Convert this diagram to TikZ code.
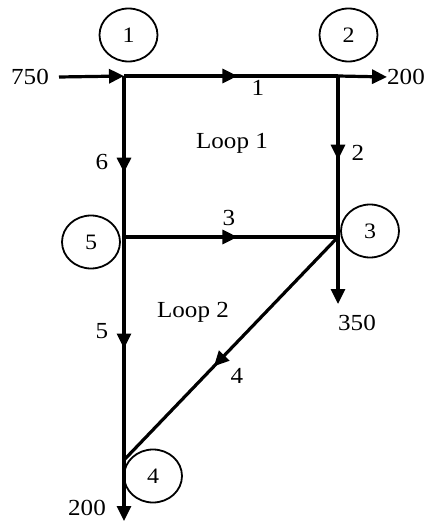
\documentclass[tikz,border=0pt]{standalone}
\usepackage{fontspec}
\setmainfont[FakeStretch=1.09]{Liberation Serif}
\usetikzlibrary{arrows.meta,shapes.geometric,decorations.markings}

\tikzset{
    pipe/.style={line width=3.2pt},
    tipend/.style={-{Triangle[length=15pt,width=14pt]}},
    midarrow/.style={postaction={decorate},
        decoration={markings,
            mark=at position #1 with {\arrow{Triangle[length=15pt,width=14pt]}}}},
    junc/.style={ellipse,draw,line width=1.8pt,minimum width=58pt,
        minimum height=53pt,inner sep=0pt,font=\fontsize{22}{24}\selectfont},
    lbl/.style={font=\fontsize{23}{25}\selectfont,inner sep=0pt}
}

\begin{document}
\begin{tikzpicture}[x=1pt,y=-1pt]
    \useasboundingbox (0,0) rectangle (436,521);

    % junctions of the network
    \coordinate (j1) at (124,76);
    \coordinate (j2) at (338,76);
    \coordinate (j3) at (338,237);
    \coordinate (j4) at (124,460);
    \coordinate (j5) at (124,237);
    \coordinate (o3) at (338,304);
    \coordinate (o4) at (124,521);

    % node circles
    \node[junc] (c1) at (128.5,35) {1};
    \node[junc] (c2) at (348.5,35) {2};
    \node[junc] (c3) at (370,231) {3};
    \node[junc] (c4) at (153,476) {4};
    \node[junc] (c5) at (91,242) {5};

    % flows in and out
    \node[lbl] (in1) at (30,77) {750};
    \node[lbl,anchor=west] (out2) at (387,77) {200};
    \node[lbl] (out3) at (357,323) {350};
    \node[lbl] (out4) at (87,508) {200};

    \draw[pipe,tipend] ([xshift=10pt]in1.east) -- (j1);
    \draw[pipe,tipend] (j2) -- (out2.west);
    \draw[pipe,tipend] (j3) -- (o3);
    \draw[pipe,tipend] (j4) -- (o4);

    % pipes
    \draw[pipe,midarrow=0.53] (j1) -- (j2);
    \draw[pipe,midarrow=0.52] (j2) -- (j3);
    \draw[pipe,midarrow=0.53] (j5) -- (j3);
    \draw[pipe,midarrow=0.60] (j1) -- (j5);
    \draw[pipe,midarrow=0.50] (j5) -- (j4);
    \draw[pipe,midarrow=0.58] (j3) -- (j4);

    % pipe and loop labels
    \node[lbl] (p1) at (258,88) {1};
    \node[lbl] (p2) at (358,153) {2};
    \node[lbl] (p3) at (229,218) {3};
    \node[lbl] (p4) at (237,376) {4};
    \node[lbl] (p5) at (102,331) {5};
    \node[lbl] (p6) at (102,162) {6};
    \node[lbl] (loop1) at (232,143) {Loop 1};
    \node[lbl] (loop2) at (193,312) {Loop 2};
\end{tikzpicture}
\end{document}
